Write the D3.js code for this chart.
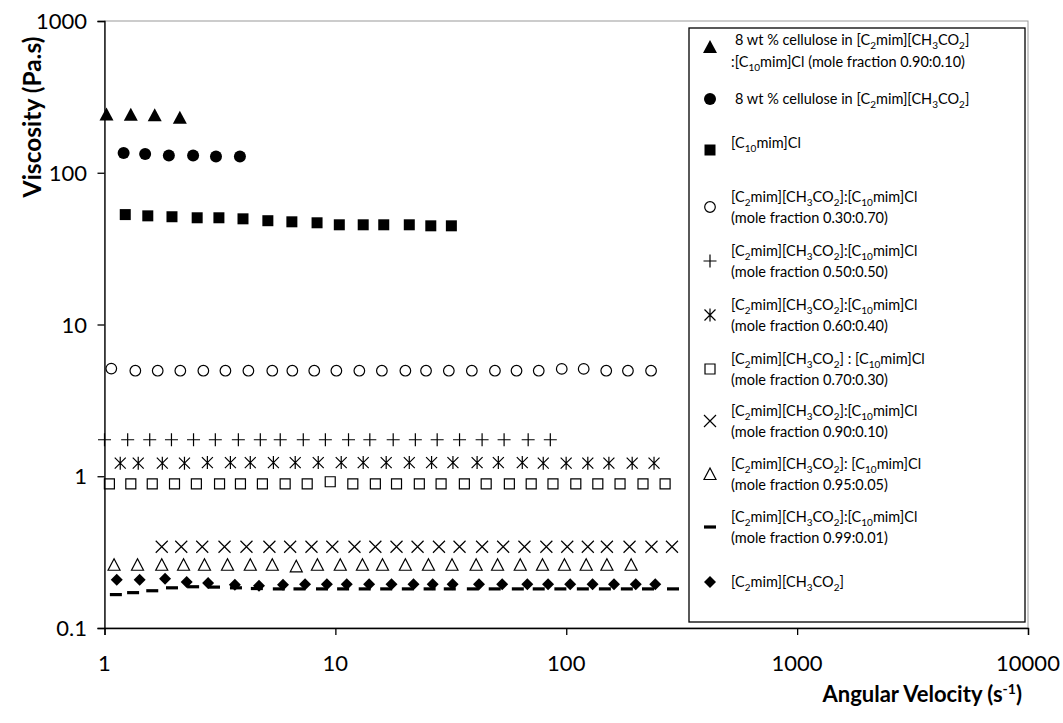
<!DOCTYPE html>
<html lang="en">
<head>
<meta charset="UTF-8">
<title>Viscosity vs Angular Velocity</title>
<script src="https://d3js.org/d3.v7.min.js"></script>
<style>
  body { margin: 0; background: #fff; }
  svg text { font-family: Lato, "Open Sans", sans-serif; fill: #000; }
  .tick-label { font-size: 22px; }
  .axis-title { font-size: 22px; font-weight: bold; }
  .legend-text { font-size: 14.5px; }
</style>
</head>
<body>
<svg id="chart" width="1063" height="723"></svg>
<script>
// ---- data (x = angular velocity s^-1, y = viscosity Pa.s)
const triFillX = [1.02, 1.30, 1.65, 2.12];
const triFillY = [242, 241, 239, 230];

const circFillX = [1.21, 1.50, 1.90, 2.42, 3.04, 3.86];
const circFillY = [135, 133, 130, 130, 128, 128];

const sqFillX = [1.23, 1.54, 1.96, 2.52, 3.13, 3.98, 5.10, 6.48, 8.33, 10.4, 13.2, 16.2, 20.9, 25.9, 31.8];
const sqFillY = [53, 52, 51.3, 50.5, 50.5, 49.7, 48.3, 47.5, 46.8, 45.4, 45.4, 45.4, 45.4, 44.7, 44.7];

const circOpenX = [1.07, 1.36, 1.70, 2.13, 2.68, 3.34, 4.20, 5.33, 6.51, 8.10, 10.1, 12.7, 15.9, 20.1, 24.7,
                   31.0, 39.0, 49.1, 60.9, 76.0, 95.6, 119, 149, 185, 233];
const circOpenY = [5.12, 4.96, 4.96, 4.96, 4.96, 4.96, 4.96, 4.96, 4.96, 4.96, 4.96, 4.96, 4.96, 4.96, 4.96,
                   4.96, 4.96, 4.96, 4.96, 4.96, 5.1, 5.1, 4.96, 4.96, 4.96];

const plusX = [1.0, 1.26, 1.57, 1.95, 2.43, 3.02, 3.80, 4.73, 5.77, 7.26, 9.05, 11.4, 14.1, 17.8, 22.2,
               27.6, 34.5, 43.2, 53.8, 68.4, 85.3];
const plusY = [1.74, 1.74, 1.74, 1.74, 1.74, 1.74, 1.74, 1.74, 1.74, 1.74, 1.74, 1.74, 1.74, 1.74, 1.74,
               1.74, 1.74, 1.74, 1.74, 1.74, 1.74];

const starX = [1.17, 1.40, 1.78, 2.22, 2.79, 3.51, 4.28, 5.39, 6.70, 8.43, 10.6, 13.2, 16.6, 20.9, 26.1,
               32.3, 41.1, 50.8, 64.5, 79.5, 99.9, 124, 153, 193, 240];
const starY = [1.22, 1.22, 1.22, 1.22, 1.23, 1.23, 1.23, 1.23, 1.23, 1.23, 1.23, 1.23, 1.23, 1.23, 1.23,
               1.23, 1.23, 1.23, 1.23, 1.22, 1.22, 1.22, 1.22, 1.22, 1.22];

const sqOpenX = [1.05, 1.30, 1.61, 2.01, 2.50, 3.15, 3.88, 4.83, 6.06, 7.55, 9.50, 11.9, 14.9, 18.4, 23.1,
                 28.7, 36.2, 45.0, 56.7, 70.5, 87.6, 110, 137, 171, 215, 268];
const sqOpenY = [0.89, 0.89, 0.89, 0.89, 0.89, 0.89, 0.89, 0.89, 0.89, 0.89, 0.92, 0.89, 0.89, 0.89, 0.89,
                 0.89, 0.89, 0.89, 0.89, 0.89, 0.89, 0.89, 0.89, 0.89, 0.89, 0.89];

const crossX = [1.77, 2.15, 2.65, 3.31, 4.12, 5.18, 6.37, 7.88, 9.70, 12.1, 14.9, 18.4, 22.7, 28.1, 34.5,
                43.2, 53.3, 65.9, 82.0, 101, 124, 150, 188, 234, 287];
const crossY = [0.343, 0.343, 0.343, 0.343, 0.343, 0.343, 0.343, 0.343, 0.343, 0.343, 0.343, 0.343, 0.343,
                0.343, 0.343, 0.343, 0.343, 0.343, 0.343, 0.343, 0.343, 0.343, 0.343, 0.343, 0.343];

const triOpenX = [1.10, 1.39, 1.77, 2.20, 2.71, 3.41, 4.28, 5.33, 6.77, 8.36, 10.5, 13.1, 16.0, 20.1, 25.3,
                  32.0, 40.7, 50.4, 63.2, 78.9, 98.2, 122, 150, 191];
const triOpenY = [0.261, 0.261, 0.261, 0.261, 0.261, 0.261, 0.261, 0.261, 0.255, 0.261, 0.261, 0.261,
                  0.261, 0.261, 0.261, 0.261, 0.261, 0.261, 0.261, 0.261, 0.261, 0.261, 0.261, 0.261];

const dashX = [1.12, 1.33, 1.61, 1.96, 2.42, 2.98, 3.71, 4.57, 5.69, 6.99, 8.75, 10.8, 13.4, 16.6, 20.6,
               25.6, 31.3, 39.4, 49.0, 61.7, 76.0, 94.3, 118, 147, 183, 226, 290];
const dashY = [0.166, 0.171, 0.176, 0.184, 0.187, 0.186, 0.184, 0.182, 0.181, 0.181, 0.181, 0.181, 0.181,
               0.181, 0.181, 0.181, 0.181, 0.181, 0.181, 0.181, 0.181, 0.181, 0.181, 0.181, 0.181, 0.181, 0.181];

const diamondX = [1.13, 1.42, 1.83, 2.27, 2.81, 3.67, 4.67, 5.93, 7.39, 9.19, 11.2, 14.0, 17.5, 21.8, 26.4,
                  32.2, 41.9, 52.8, 67.8, 83.4, 104, 130, 161, 200, 243];
const diamondY = [0.208, 0.208, 0.211, 0.201, 0.198, 0.193, 0.190, 0.193, 0.194, 0.194, 0.194, 0.194, 0.194,
                  0.194, 0.194, 0.194, 0.194, 0.194, 0.194, 0.194, 0.194, 0.194, 0.194, 0.194, 0.194];

const xTicks = [1, 10, 100, 1000, 10000];
const yTicks = [0.1, 1, 10, 100, 1000];

// legend text, "_n" = subscript
const legendLabels = [
  ["8 wt % cellulose in [C_2mim][CH_3CO_2]", ":[C_10mim]Cl (mole fraction 0.90:0.10)"],
  ["8 wt % cellulose in [C_2mim][CH_3CO_2]"],
  ["[C_10mim]Cl"],
  ["[C_2mim][CH_3CO_2]:[C_10mim]Cl", "(mole fraction 0.30:0.70)"],
  ["[C_2mim][CH_3CO_2]:[C_10mim]Cl", "(mole fraction 0.50:0.50)"],
  ["[C_2mim][CH_3CO_2]:[C_10mim]Cl", "(mole fraction 0.60:0.40)"],
  ["[C_2mim][CH_3CO_2] : [C_10mim]Cl", "(mole fraction 0.70:0.30)"],
  ["[C_2mim][CH_3CO_2]:[C_10mim]Cl", "(mole fraction 0.90:0.10)"],
  ["[C_2mim][CH_3CO_2]: [C_10mim]Cl", "(mole fraction 0.95:0.05)"],
  ["[C_2mim][CH_3CO_2]:[C_10mim]Cl", "(mole fraction 0.99:0.01)"],
  ["[C_2mim][CH_3CO_2]"]
];

const series = [
  { x: triFillX, y: triFillY, marker: "triFill" },
  { x: circFillX, y: circFillY, marker: "circFill" },
  { x: sqFillX, y: sqFillY, marker: "sqFill" },
  { x: circOpenX, y: circOpenY, marker: "circOpen" },
  { x: plusX, y: plusY, marker: "plus" },
  { x: starX, y: starY, marker: "star" },
  { x: sqOpenX, y: sqOpenY, marker: "sqOpen" },
  { x: crossX, y: crossY, marker: "cross" },
  { x: triOpenX, y: triOpenY, marker: "triOpen" },
  { x: dashX, y: dashY, marker: "dash" },
  { x: diamondX, y: diamondY, marker: "diamond" }
];

// ---- layout
const LEFT = 104.5, RIGHT = 1028, TOP = 21, BOTTOM = 628;
const svg = d3.select("#chart");

const x = d3.scaleLog().domain([1, 10000]).range([LEFT, RIGHT]);
const y = d3.scaleLog().domain([0.1, 1000]).range([BOTTOM, TOP]);

// light frame around the plot area
svg.append("rect")
  .attr("x", LEFT).attr("y", TOP)
  .attr("width", RIGHT - LEFT).attr("height", BOTTOM - TOP)
  .attr("fill", "none").attr("stroke", "#9a9a9a").attr("stroke-width", 1);

// axes
const xAxis = d3.axisBottom(x).tickValues(xTicks).tickSize(7).tickFormat("");
const yAxis = d3.axisLeft(y).tickValues(yTicks).tickSize(7).tickFormat("");

svg.append("g").attr("transform", `translate(0,${BOTTOM})`).call(xAxis)
  .call(g => g.selectAll("line, path").attr("stroke", "#000").attr("stroke-width", 1.3));
svg.append("g").attr("transform", `translate(${LEFT},0)`).call(yAxis)
  .call(g => g.selectAll("line, path").attr("stroke", "#000").attr("stroke-width", 1.3));

svg.selectAll(".xlab").data(xTicks).join("text")
  .attr("class", "tick-label")
  .attr("x", d => x(d)).attr("y", 671)
  .attr("text-anchor", "middle")
  .text(d => d);

svg.selectAll(".ylab").data(yTicks).join("text")
  .attr("class", "tick-label")
  .attr("x", 87).attr("y", d => y(d) + 8)
  .attr("text-anchor", "end")
  .text(d => d);

// axis titles
svg.append("text")
  .attr("class", "axis-title")
  .style("font-size", "24.5px")
  .attr("transform", "translate(41,117) rotate(-90)")
  .attr("text-anchor", "middle")
  .text("Viscosity (Pa.s)");

const xt = svg.append("text")
  .attr("class", "axis-title")
  .attr("x", 1022).attr("y", 702)
  .attr("text-anchor", "end");
xt.append("tspan").text("Angular Velocity (s");
xt.append("tspan").attr("dy", -8).style("font-size", "14px").text("-1");
xt.append("tspan").attr("dy", 8).text(")");

// marker shapes
function markerPath(type) {
  const p = d3.path();
  switch (type) {
    case "triFill":
      return "M0,-7L7,6L-7,6Z";
    case "triOpen":
      return "M0,-6L6,5.5L-6,5.5Z";
    case "circFill":
      p.arc(0, 0, 6, 0, 2 * Math.PI); return p.toString();
    case "circOpen":
      p.arc(0, 0, 5.3, 0, 2 * Math.PI); return p.toString();
    case "sqFill":
      return "M-5.5,-5.5h11v11h-11Z";
    case "sqOpen":
      return "M-5,-5h10v10h-10Z";
    case "plus":
      return "M-6.5,0H6.5M0,-6.5V6.5";
    case "cross":
      return "M-6,-6L6,6M-6,6L6,-6";
    case "star":
      return "M-5.5,-5.5L5.5,5.5M-5.5,5.5L5.5,-5.5M0,-6.5V6.5";
    case "dash":
      return "M-6,-1.6h12v3.2h-12Z";
    case "diamond":
      return "M0,-6L6,0L0,6L-6,0Z";
  }
}
function markerStyle(sel, type) {
  const filled = ["triFill", "circFill", "sqFill", "dash", "diamond"].includes(type);
  sel.attr("d", markerPath(type))
    .attr("fill", filled ? "#000" : "none")
    .attr("stroke", filled ? "none" : "#000")
    .attr("stroke-width", 1.2);
}

// draw data points
series.forEach(s => {
  const pts = s.x.map((v, i) => ({ x: v, y: s.y[i] }));
  svg.append("g").selectAll("path").data(pts).join("path")
    .attr("transform", d => `translate(${x(d.x)},${y(d.y)})`)
    .call(markerStyle, s.marker);
});

// legend
const LEG = { x: 689, y: 28, w: 336, h: 594 };
const legSymY = [47, 99, 150, 207, 261, 315, 369, 421, 474, 527, 582];

svg.append("rect")
  .attr("x", LEG.x).attr("y", LEG.y).attr("width", LEG.w).attr("height", LEG.h)
  .attr("fill", "#fff").attr("stroke", "#000").attr("stroke-width", 1.3);

function addRich(textSel, str) {
  // "_digits" parts become subscripts; the shift is undone on the next part
  const parts = str.split(/(_\d+)/).filter(Boolean);
  let pending = 0;
  parts.forEach(part => {
    if (part[0] === "_") {
      textSel.append("tspan").attr("dy", 4 + pending).style("font-size", "10px").text(part.slice(1));
      pending = -4;
    } else {
      textSel.append("tspan").attr("dy", pending).text(part);
      pending = 0;
    }
  });
}

legendLabels.forEach((lines, i) => {
  const sy = legSymY[i];
  svg.append("path")
    .attr("transform", `translate(710,${sy})`)
    .call(markerStyle, series[i].marker);

  let lineYs;
  if (i === 0) lineYs = [40, 62];
  else if (i === 1) lineYs = [99];
  else if (i === 2) lineYs = [143];
  else if (lines.length === 1) lineYs = [sy];
  else lineYs = [sy - 10, sy + 11];

  lines.forEach((ln, j) => {
    const t = svg.append("text")
      .attr("class", "legend-text")
      .attr("x", i < 2 && j === 0 ? 735 : 731)
      .attr("y", lineYs[j] + 5);
    addRich(t, ln);
  });
});
</script>
</body>
</html>
